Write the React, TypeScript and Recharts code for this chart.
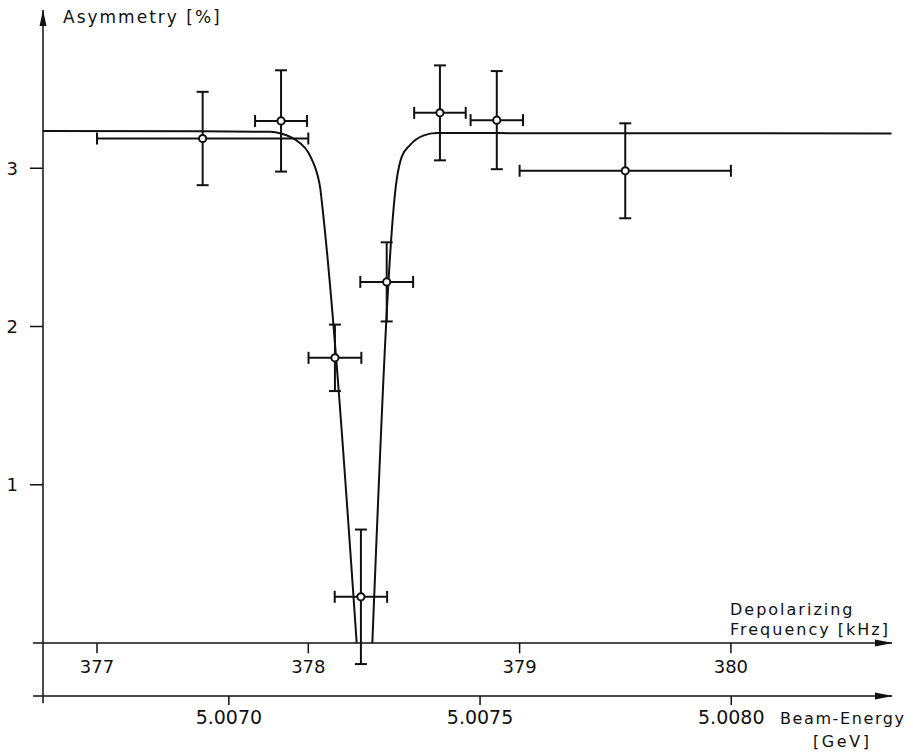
import {
  ComposedChart,
  Scatter,
  Line,
  XAxis,
  YAxis,
  ErrorBar,
  ReferenceLine,
  ReferenceDot,
} from "recharts";

// measured points: depolarizing frequency [kHz] and asymmetry [%]
const pointFreq = [377.5, 377.871, 378.126, 378.249, 378.371, 378.623, 378.892, 379.5];
const pointAsym = [3.188, 3.299, 1.802, 0.292, 2.282, 3.35, 3.304, 2.984];
const pointFreqErr = [0.5, 0.123, 0.125, 0.124, 0.125, 0.122, 0.124, 0.5];
const pointAsymErr = [0.295, 0.32, 0.21, 0.425, 0.25, 0.3, 0.31, 0.3];

// fitted resonance curve, left and right flank
const leftFreq = [376.745, 377.5, 377.82, 377.87, 377.92, 377.96, 378.0, 378.025, 378.045, 378.057, 378.063, 378.229];
const leftAsym = [3.235, 3.234, 3.23, 3.22, 3.195, 3.16, 3.1, 3.03, 2.95, 2.87, 2.8, 0];
const rightFreq = [378.303, 378.418, 378.442, 378.481, 378.544, 378.608, 378.9, 380.76];
const rightAsym = [0, 2.925, 3.072, 3.146, 3.206, 3.222, 3.222, 3.22];

const freqTicks = [377, 378, 379, 380];
const energyTicks = [5.007, 5.0075, 5.008];
const asymTicks = [1, 2, 3];

const FREQ_MIN = 376.7444;
const FREQ_MAX = 380.7624;
const FREQ_STUB = 376.697;
const ENERGY_MIN = 5.00663;
const ENERGY_MAX = 5.00832;
const ASYM_MIN = -0.3348;
const ASYM_MAX = 4.0;

const points = pointFreq.map((f, i) => ({
  f,
  a: pointAsym[i],
  ef: pointFreqErr[i],
  ea: pointAsymErr[i],
}));
const leftCurve = leftFreq.map((f, i) => ({ f, a: leftAsym[i] }));
const rightCurve = rightFreq.map((f, i) => ({ f, a: rightAsym[i] }));
// invisible carrier so the energy axis gets a scale of its own
const energyCarrier = energyTicks.map((e) => ({ e, a: ASYM_MIN }));

const FONT = "'DejaVu Sans', sans-serif";
const INK = "#111";

const OpenDot = (p: any) => (
  <circle cx={p.cx} cy={p.cy} r={3.6} fill="#fff" stroke={INK} strokeWidth={2} />
);

const arrowRight = (p: any) => (
  <polygon
    points={`${p.cx + 1},${p.cy} ${p.cx - 17},${p.cy - 3.5} ${p.cx - 17},${p.cy + 3.5}`}
    fill={INK}
  />
);

const arrowUp = (p: any) => (
  <polygon
    points={`${p.cx},${p.cy} ${p.cx - 3.5},${p.cy + 16} ${p.cx + 3.5},${p.cy + 16}`}
    fill={INK}
  />
);

export default function App() {
  return (
    <div style={{ position: "relative", width: 913, height: 752, background: "#fff" }}>
      <style>{"body{margin:0}"}</style>
      <ComposedChart
        width={913}
        height={752}
        margin={{ top: 10, right: 21, bottom: 0, left: 0 }}
      >
        <XAxis
          xAxisId="f"
          dataKey="f"
          type="number"
          domain={[FREQ_MIN, FREQ_MAX]}
          allowDataOverflow
          hide
        />
        <XAxis
          xAxisId="e"
          dataKey="e"
          type="number"
          domain={[ENERGY_MIN, ENERGY_MAX]}
          allowDataOverflow
          ticks={energyTicks}
          tickFormatter={(v: number) => v.toFixed(4)}
          height={56}
          tickSize={9}
          tickMargin={6}
          axisLine={{ stroke: INK, strokeWidth: 1.5 }}
          tickLine={{ stroke: INK, strokeWidth: 1.5 }}
          tick={{ fill: INK, fontSize: 19, fontFamily: FONT }}
        />
        <YAxis
          dataKey="a"
          type="number"
          domain={[ASYM_MIN, ASYM_MAX]}
          allowDataOverflow
          ticks={asymTicks}
          width={43}
          tickSize={13}
          tickMargin={12}
          axisLine={{ stroke: INK, strokeWidth: 1.5 }}
          tickLine={{ stroke: INK, strokeWidth: 1.5 }}
          tick={{ fill: INK, fontSize: 18, fontFamily: FONT }}
        />

        {/* frequency axis at zero asymmetry */}
        <ReferenceLine
          xAxisId="f"
          segment={[{ x: FREQ_STUB, y: 0 }, { x: FREQ_MAX, y: 0 }]}
          ifOverflow="visible"
          stroke={INK}
          strokeWidth={1.5}
        />
        {freqTicks.map((t) => (
          <ReferenceLine
            key={t}
            xAxisId="f"
            segment={[{ x: t, y: 0 }, { x: t, y: -0.065 }]}
            ifOverflow="visible"
            stroke={INK}
            strokeWidth={1.5}
            label={{
              value: String(t),
              position: "bottom",
              offset: 7,
              fill: INK,
              fontSize: 18,
              fontFamily: FONT,
            }}
          />
        ))}
        <ReferenceLine
          xAxisId="f"
          segment={[{ x: FREQ_STUB, y: ASYM_MIN }, { x: FREQ_MIN, y: ASYM_MIN }]}
          ifOverflow="visible"
          stroke={INK}
          strokeWidth={1.5}
        />
        <ReferenceLine
          xAxisId="f"
          segment={[{ x: FREQ_MIN, y: ASYM_MIN }, { x: FREQ_MIN, y: -0.38 }]}
          ifOverflow="visible"
          stroke={INK}
          strokeWidth={1.5}
        />
        <ReferenceDot xAxisId="f" x={FREQ_MAX} y={0} ifOverflow="visible" shape={arrowRight} />
        <ReferenceDot xAxisId="f" x={FREQ_MAX} y={ASYM_MIN} ifOverflow="visible" shape={arrowRight} />
        <ReferenceDot xAxisId="f" x={FREQ_MIN} y={ASYM_MAX} ifOverflow="visible" shape={arrowUp} />

        <Line
          xAxisId="e"
          data={energyCarrier}
          dataKey="a"
          stroke="none"
          dot={false}
          activeDot={false}
          isAnimationActive={false}
        />
        <Line
          xAxisId="f"
          data={leftCurve}
          dataKey="a"
          type="monotone"
          stroke={INK}
          strokeWidth={2}
          dot={false}
          activeDot={false}
          isAnimationActive={false}
        />
        <Line
          xAxisId="f"
          data={rightCurve}
          dataKey="a"
          type="monotone"
          stroke={INK}
          strokeWidth={2}
          dot={false}
          activeDot={false}
          isAnimationActive={false}
        />
        <Scatter
          xAxisId="f"
          data={points}
          dataKey="a"
          shape={OpenDot}
          isAnimationActive={false}
        >
          <ErrorBar dataKey="ef" direction="x" width={6} stroke={INK} strokeWidth={2} />
          <ErrorBar dataKey="ea" direction="y" width={6} stroke={INK} strokeWidth={2} />
        </Scatter>
      </ComposedChart>

      <svg
        width={913}
        height={752}
        style={{ position: "absolute", left: 0, top: 0, pointerEvents: "none" }}
        fontFamily={FONT}
        fill={INK}
      >
        <text x={63} y={23} fontSize={17} letterSpacing={2}>
          Asymmetry [%]
        </text>
        <text x={730} y={615} fontSize={16} letterSpacing={2}>
          Depolarizing
        </text>
        <text x={730} y={635} fontSize={16} letterSpacing={2}>
          Frequency [kHz]
        </text>
        <text x={780} y={724} fontSize={16} letterSpacing={1.6}>
          Beam-Energy
        </text>
        <text x={813} y={747} fontSize={16} letterSpacing={2.6}>
          [GeV]
        </text>
      </svg>
    </div>
  );
}
